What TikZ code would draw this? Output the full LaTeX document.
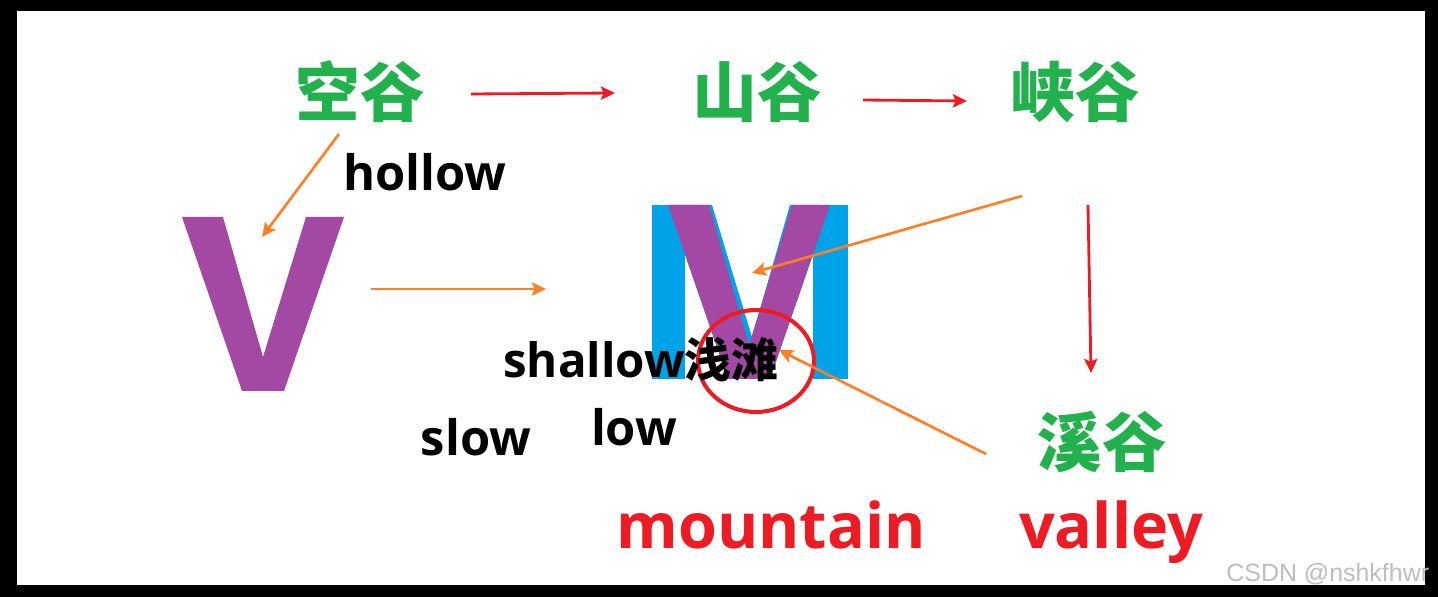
\documentclass[tikz,border=0pt]{standalone}
\usepackage{fontspec}
\setmainfont{Open Sans}
\newfontfamily\cjk{Noto Sans CJK SC}
\newfontfamily\wmfont{Liberation Sans}
\usetikzlibrary{arrows.meta,calc,shapes.geometric}
\definecolor{paintred}{HTML}{ED1C24}
\definecolor{paintorange}{HTML}{FF7F27}
\definecolor{paintgreen}{HTML}{22B14C}
\definecolor{paintpurple}{HTML}{A349A4}
\definecolor{paintblue}{HTML}{00A2E8}
\definecolor{markgray}{RGB}{190,190,190}

\begin{document}
\begin{tikzpicture}[x=0.02cm, y=-0.02cm,
    valleyword/.style={text=paintgreen, font=\cjk\bfseries\fontsize{36.8}{40}\selectfont, inner sep=0pt},
    gloss/.style={text=black, font=\bfseries\fontsize{27.8}{30}\selectfont, inner sep=0pt},
    keyword/.style={text=paintred, font=\bfseries\fontsize{35.8}{40}\selectfont, inner sep=0pt},
    redarrow/.style={draw=paintred, line width=1.6pt, -{Stealth[length=8pt,width=7.5pt,inset=1.5pt]}},
    orangearrow/.style={draw=paintorange, line width=1.5pt, -{Stealth[length=8pt,width=7.5pt,inset=1.5pt]}}]
	% frame
	\fill[black] (0,0) rectangle (1438,597);
	\fill[white] (17,11) rectangle (1425,585);
	% the V
	\fill[paintpurple] (182,217) -- (223,217) -- (263,357) -- (306,217) -- (344,217) -- (284,391) -- (242,391) -- cycle;
	\coordinate (vee) at (263,304);
	% the M with a V on it
	\fill[paintblue] (652,205) rectangle (685,379);
	\fill[paintblue] (813,205) rectangle (848,379);
	\fill[paintblue] (668,205) -- (712,205) -- (752,337) -- (790,205) -- (830,205) -- (770,379) -- (728,379) -- cycle;
	\fill[paintpurple] (668,205) -- (709,205) -- (749,345) -- (792,205) -- (830,205) -- (770,379) -- (728,379) -- cycle;
	\coordinate (em) at (750,292);
	\node[ellipse, draw=paintred, line width=2.3pt, minimum width=2.32cm, minimum height=2.04cm, inner sep=0pt] (shoal) at (756,361) {};
	% words
	\node[valleyword] (kong) at (360,92) {空谷};
	\node[valleyword] (shan) at (757,92) {山谷};
	\node[valleyword] (xia) at (1075,92) {峡谷};
	\node[valleyword] (xi) at (1102,442) {溪谷};
	\node[gloss] (hollow) at (425,172) {hollow};
	\node[gloss, font=\bfseries\fontsize{27}{30}\selectfont, anchor=base west] (shallow) at (503,378) {shallow{\cjk\fontsize{26.6}{30}\selectfont 浅滩}};
	\node[gloss] (slow) at (476,437) {slow};
	\node[gloss] (low) at (634,427) {low};
	\node[keyword, anchor=base] (mountain) at (771,549) {mountain};
	\node[keyword, anchor=base] (valley) at (1111,549) {valley};
	\node[text=markgray, font=\wmfont\fontsize{14.2}{16}\selectfont, inner sep=0pt, anchor=base west] (csdn) at (1226,582) {CSDN @nshkfhwr};
	% arrows
	\draw[redarrow] ($(kong)+(111,2)$) -- ($(shan)+(-142,1)$);
	\draw[redarrow] ($(shan)+(106,8)$) -- ($(xia)+(-108,9)$);
	\draw[redarrow] ($(xia)+(13,113)$) -- ($(xi)+(-11,-69)$);
	\draw[orangearrow] ($(kong)+(-21,42)$) -- ($(vee)+(-1,-67)$);
	\draw[orangearrow] ($(vee)+(108,-15)$) -- ($(em)+(-204,-3)$);
	\draw[orangearrow] ($(xia)+(-53,104)$) -- ($(em)+(2,-19)$);
	\draw[orangearrow] ($(xi)+(-116,12)$) -- ($(shoal)+(23,-11)$);
\end{tikzpicture}
\end{document}
